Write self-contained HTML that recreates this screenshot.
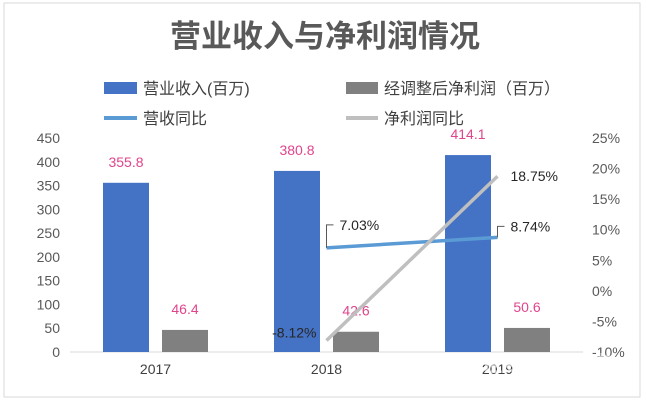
<!DOCTYPE html>
<html><head><meta charset="utf-8"><style>
body{margin:0;background:#fff;}
svg text{font-family:"Liberation Sans","Noto Sans CJK SC",sans-serif;}
</style></head><body>
<svg width="646" height="404" viewBox="0 0 646 404">
<rect x="4" y="3" width="636" height="394" fill="#fff" stroke="#d9d9d9"/>
<text x="325" y="47" text-anchor="middle" font-size="31" font-weight="bold" fill="#595959">营业收入与净利润情况</text>
<g>
<rect x="104" y="82" width="33" height="12" fill="#4472c4"/>
<text x="143" y="94" font-size="16" fill="#404040">营业收入(百万)</text>
<rect x="346" y="82" width="32" height="12" fill="#808080"/>
<text x="384" y="94" font-size="16" fill="#404040">经调整后净利润（百万）</text>
<rect x="104" y="116" width="33" height="4" fill="#5b9bd5"/>
<text x="143" y="124" font-size="16" fill="#404040">营收同比</text>
<rect x="346" y="116" width="32" height="4" fill="#bfbfbf"/>
<text x="384" y="124" font-size="16" fill="#404040">净利润同比</text>
</g>
<g id="plot"></g>
<text x="535" y="372" text-anchor="middle" font-size="22" font-weight="bold" fill="#fff" fill-opacity="0.6">21世纪经济报道</text>
<text x="535" y="386" text-anchor="middle" font-size="9" font-style="italic" font-weight="bold" fill="#fff" fill-opacity="0.6">21ST CENTURY BUSINESS HERALD</text>
</svg>
<script>
const categories=["2017","2018","2019"];
const revenue=[355.8,380.8,414.1];
const profit=[46.4,42.6,50.6];
const revenueYoY=[null,7.03,8.74];
const profitYoY=[null,-8.12,18.75];
const leftTicks=[0,50,100,150,200,250,300,350,400,450];
const rightTicks=[-10,-5,0,5,10,15,20,25];

const NS="http://www.w3.org/2000/svg";
const g=document.getElementById('plot');
const x0=70,x1=583,yb=352,yt=138;
const cw=(x1-x0)/categories.length;
const cx=i=>x0+cw*(i+0.5);
const yL=v=>yb-(v/450)*(yb-yt);
const yR=v=>yb-((v+10)/35)*(yb-yt);
function mk(t,a,txt){const e=document.createElementNS(NS,t);for(const k in a)e.setAttribute(k,a[k]);if(txt!=null)e.textContent=txt;g.appendChild(e);return e;}

leftTicks.forEach(v=>{const e=mk('text',{x:60,y:yL(v)+5,'text-anchor':'end','font-size':14,fill:'#595959'},String(v));

});
rightTicks.forEach(v=>{const e=mk('text',{x:592,y:yR(v)+5,'font-size':14,fill:'#595959'},v+'%');

});
const ax=mk('line',{x1:x0,x2:x1,y1:yb,y2:yb,stroke:'#d9d9d9'});



categories.forEach((c,i)=>{
 const t=mk('text',{x:cx(i),y:374,'text-anchor':'middle','font-size':14,fill:'#404040'},c);
 
 
 const b=mk('rect',{x:cx(i)-52.5,y:yL(revenue[i]),width:46,height:yb-yL(revenue[i]),fill:'#4472c4'});
 
 
 const p=mk('rect',{x:cx(i)+6.5,y:yL(profit[i]),width:46,height:yb-yL(profit[i]),fill:'#808080'});
 
 
 const l1=mk('text',{x:cx(i)-29.5,y:yL(revenue[i])-16,'text-anchor':'middle','font-size':14,fill:'#e0448c'},revenue[i].toFixed(1));
 
 
 const l2=mk('text',{x:cx(i)+29.5,y:yL(profit[i])-16,'text-anchor':'middle','font-size':14,fill:'#e0448c'},profit[i].toFixed(1));
 
 
});

function line(arr,color,name){
 const pts=[];arr.forEach((v,i)=>{if(v!=null)pts.push(cx(i)+','+yR(v));});
 const e=mk('polyline',{points:pts.join(' '),fill:'none',stroke:color,'stroke-width':3.5});
 
 
}
line(revenueYoY,'#5b9bd5','line-revenue-yoy');
line(profitYoY,'#bfbfbf','line-profit-yoy');

revenueYoY.forEach((v,i)=>{if(v==null)return;
 const px=cx(i),py=yR(v),ly=py-(i==1?23:11);
 const ld=mk('polyline',{points:`${px},${py} ${px},${ly} ${px+7},${ly}`,fill:'none',stroke:'#595959','stroke-width':1});
 
 
 const t=mk('text',{x:px+13,y:ly+5,'font-size':14,fill:'#262626'},v.toFixed(2)+'%');
 
 
});
profitYoY.forEach((v,i)=>{if(v==null)return;
 const px=cx(i),py=yR(v);
 const first=i==1;
 const t=mk('text',{x:first?px-10:px+13,y:first?py-3:py+5,'text-anchor':first?'end':'start','font-size':14,fill:'#262626'},v.toFixed(2)+'%');
 
 
});
</script>
</body></html>
